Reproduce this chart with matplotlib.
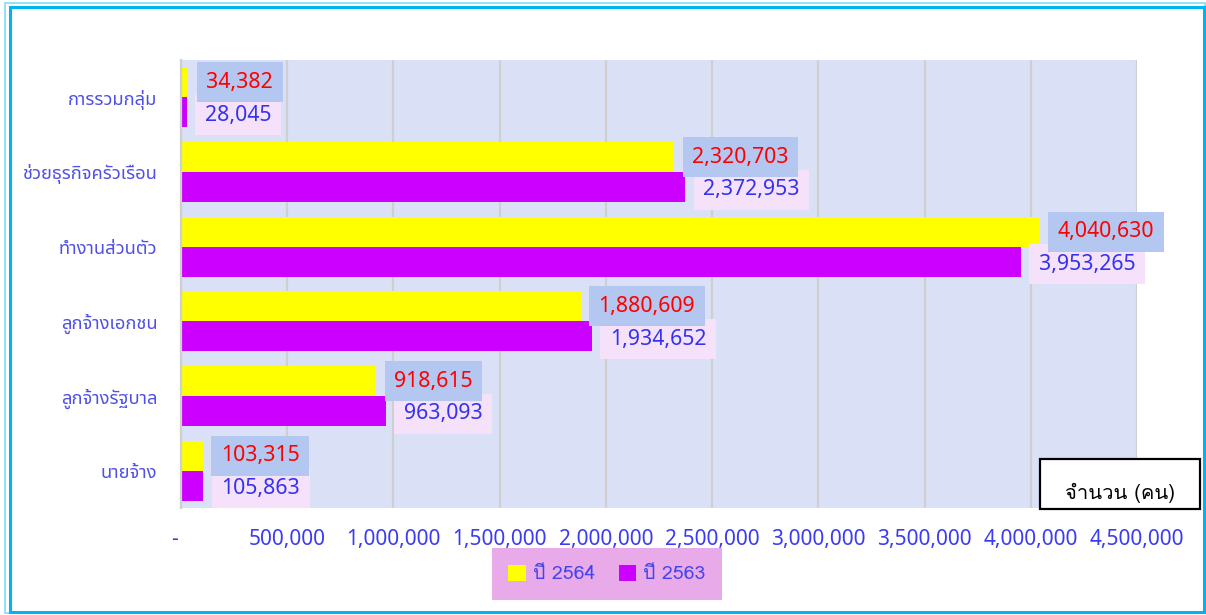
import matplotlib
matplotlib.use("Agg")
import numpy as np
import matplotlib.pyplot as plt
import matplotlib.transforms as mtransforms
from matplotlib.patches import Rectangle, Patch

categories = ["การรวมกลุ่ม", "ช่วยธุรกิจครัวเรือน", "ทำงานส่วนตัว",
              "ลูกจ้างเอกชน", "ลูกจ้างรัฐบาล", "นายจ้าง"]
y2564 = [34382, 2320703, 4040630, 1880609, 918615, 103315]
y2563 = [28045, 2372953, 3953265, 1934652, 963093, 105863]
xticks = [0, 500000, 1000000, 1500000, 2000000, 2500000,
          3000000, 3500000, 4000000, 4500000]
series_names = ["ปี 2564", "ปี 2563"]

W, H = 1206, 615
THAI = ["Noto Sans Thai", "Noto Sans", "DejaVu Sans"]
LOMA = ["Loma", "Noto Sans Thai", "DejaVu Sans"]
NUM = ["Noto Sans", "DejaVu Sans"]
plt.rcParams['font.family'] = THAI


def fx(x):
    return x / W


def fy(y):
    return 1 - y / H


fig = plt.figure(figsize=(W / 100, H / 100), dpi=100)
ax = fig.add_axes([fx(181), fy(508), fx(1137) - fx(181), fy(60) - fy(508)])
ax.set_facecolor("#DAE1F7")

y = np.arange(len(categories))
h = 0.4
ax.barh(y - h / 2, y2564, height=h, color="#FFFF00", zorder=2)
ax.barh(y + h / 2, y2563, height=h, color="#CC00FF", zorder=2)

# value labels: purple first so the blue boxes sit on top
for i, v in enumerate(y2563):
    ax.annotate(f"{v:,}", xy=(v, i + h / 2), xytext=(13, -2),
                textcoords="offset points", ha="left", va="center",
                fontsize=15.3, color="#3333EE", family=NUM, zorder=5,
                bbox=dict(boxstyle="square,pad=0.45", fc="#F5E1FA", ec="none"))
for i, v in enumerate(y2564):
    ax.annotate(f"{v:,}", xy=(v, i - h / 2), xytext=(13, 0),
                textcoords="offset points", ha="left", va="center",
                fontsize=15.3, color="#FF0000", family=NUM, zorder=6,
                bbox=dict(boxstyle="square,pad=0.45", fc="#B4C7F0", ec="none"))

ax.set_xlim(0, 4500000)
ax.set_ylim(len(categories) - 0.5, -0.5)
ax.set_xticks(xticks)
ax.set_xticklabels(["-  "] + [f"{t:,}" for t in xticks[1:]],
                   fontsize=15, color="#3B3BF5", family=NUM)
ax.set_yticks(y)
ax.set_yticklabels(categories, fontsize=13.2, color="#5050E6")
shift = mtransforms.ScaledTranslation(0, 3 / 100, fig.dpi_scale_trans)
for lab in ax.get_yticklabels():
    lab.set_transform(lab.get_transform() + shift)
ax.tick_params(axis="x", length=0, pad=15)
ax.tick_params(axis="y", length=0, pad=17)
ax.grid(axis="x", color="#CFCFCF", linewidth=1.6, zorder=1)
ax.set_axisbelow(True)
for s in ["top", "right", "bottom"]:
    ax.spines[s].set_visible(False)
ax.spines["left"].set_color("#CFCFCF")
ax.spines["left"].set_linewidth(1.6)

# legend
handles = [Patch(fc="#FFFF00", ec="none"), Patch(fc="#CC00FF", ec="none")]
leg = fig.legend(handles, series_names, loc="center",
                 bbox_to_anchor=(fx(607), fy(574)), ncol=2,
                 prop=dict(family=LOMA, size=14),
                 frameon=True, fancybox=False, handlelength=0.9,
                 handleheight=0.9, handletextpad=0.37, columnspacing=1.2,
                 borderpad=0.85, labelcolor="#4444EE")
leg.get_frame().set_facecolor("#E8AAE8")
leg.get_frame().set_edgecolor("none")
leg.get_frame().set_alpha(1)

# unit box
fig.patches.append(Rectangle((fx(1040), fy(509)), fx(160), 50 / H,
                             transform=fig.transFigure, fc="white",
                             ec="black", lw=1.6, zorder=3))
fig.text(fx(1120), fy(493), "จำนวน (คน)", ha="center", va="center",
         fontsize=14.5, color="black", family=LOMA, zorder=4)

# outer frame
fig.patches.append(Rectangle((fx(5), fy(613)), fx(1200), 610 / H,
                             transform=fig.transFigure, fc="none",
                             ec="#7FDDF5", lw=1.2))
fig.patches.append(Rectangle((fx(10), fy(612)), fx(1194), 605 / H,
                             transform=fig.transFigure, fc="none",
                             ec="#00B4F0", lw=2.2))

fig.savefig("out.png", dpi=100)
